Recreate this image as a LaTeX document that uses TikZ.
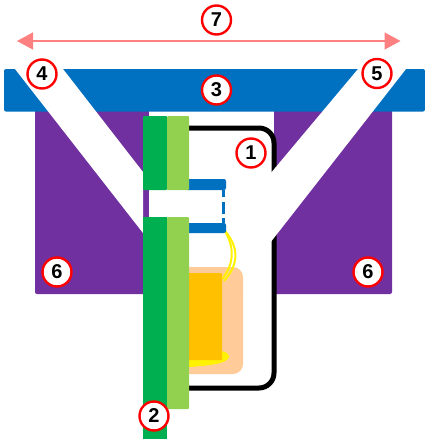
\documentclass[tikz,border=0pt]{standalone}
\usepackage{fontspec}
\setmainfont{Liberation Sans}
\usetikzlibrary{arrows.meta}
\definecolor{barblue}{HTML}{0070C0}
\definecolor{basepurple}{HTML}{7030A0}
\definecolor{stripgreen}{HTML}{00B050}
\definecolor{stemgreen}{HTML}{92D050}
\definecolor{coreorange}{HTML}{FFC000}
\definecolor{padpeach}{HTML}{FFCC99}
\definecolor{spanpink}{HTML}{FF8080}
\tikzset{
  callout/.style={circle,draw=red,fill=white,line width=2.4pt,minimum size=29pt,inner sep=0pt,font=\bfseries\fontsize{20}{20}\selectfont},
  wire/.style={yellow,line width=2pt}
}

\begin{document}
\begin{tikzpicture}[x=1pt,y=-1pt]
  \useasboundingbox (0,0) rectangle (425,439);

  % housing and top bar
  \fill[basepurple,rounded corners=2pt] (35,100) rectangle (392,294);
  \fill[white] (149,111) rectangle (274,296);
  \fill[barblue,rounded corners=2pt] (4,69) -- (425,69) -- (425,111.5) -- (4,111.5) -- cycle;

  % frame
  \draw[line width=5pt,rounded corners=15pt] (185,128) -- (274,128) -- (274,388) -- (185,388);

  % white slots
  \fill[white] (15,69) -- (63,69) -- (143,172) -- (143,233) -- cycle;
  \fill[white] (358,69) -- (406,69) -- (270,243) -- (270,174) -- cycle;

  % pad, wires and chip
  \fill[padpeach,rounded corners=10pt] (180,267) rectangle (243,374);
  \fill[yellow] (189,367) .. controls (205,366) and (228,364) .. (229,357) .. controls (229,353) and (224,351) .. (220,351) -- (189,355) -- cycle;
  \draw[wire] (225,231) .. controls (233,245) and (236,262) .. (222,279);
  \draw[wire] (225,231) .. controls (237,245) and (241,262) .. (224,281);
  \fill[coreorange,rounded corners=1pt] (185,273) rectangle (222,360);

  % clips
  \fill[barblue,rounded corners=2pt] (185,179) rectangle (226,190);
  \fill[barblue,rounded corners=2pt] (185,223) rectangle (226,233);
  \draw[barblue,line width=3pt,dash pattern=on 12pt off 4.5pt,dash phase=5pt] (223.3,190) -- (223.3,223);

  % strips
  \fill[stripgreen,rounded corners=1pt] (143,116) rectangle (167,190);
  \fill[stemgreen,rounded corners=1pt] (167,116) rectangle (189,190);
  \fill[stripgreen] (143,217) rectangle (167,439);
  \fill[stemgreen,rounded corners=1pt] (167,217) rectangle (189,409);

  % span arrow
  \coordinate (spanleft) at (17,41);
  \coordinate (spanright) at (400.5,41);
  \draw[spanpink,line width=1.5pt,{Triangle[length=16pt,width=17pt]}-{Triangle[length=16pt,width=17pt]}] (spanleft) -- (spanright);

  \node[callout] (c1) at (251,153) {1};
  \node[callout] (c2) at (154,416) {2};
  \node[callout] (c3) at (216.5,90) {3};
  \node[callout] (c4) at (42,74) {4};
  \node[callout] (c5) at (377,73.5) {5};
  \node[callout] (c6l) at (57,272) {6};
  \node[callout] (c6r) at (368,272) {6};
  \node[callout] (c7) at (216.5,20) {7};

\end{tikzpicture}
\end{document}
